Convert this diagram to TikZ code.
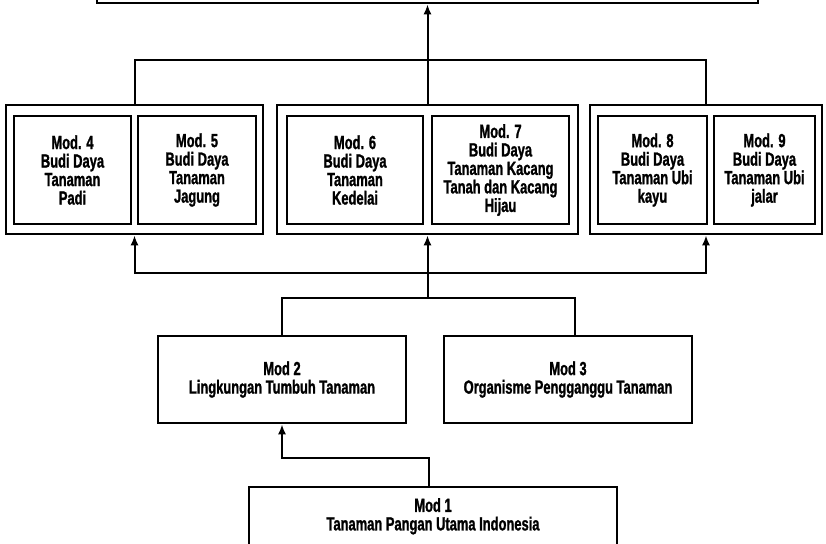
\documentclass[tikz,border=0pt]{standalone}
\usepackage{fontspec}
\setmainfont{Liberation Sans}[FakeStretch=0.68,BoldFeatures={FakeBold=1.2}]
\usetikzlibrary{arrows.meta}
\tikzset{
  modbox/.style={draw,line width=2.6pt,align=center,inner sep=0pt,
    font=\bfseries\fontsize{19}{18.5}\selectfont},
  grpbox/.style={draw,line width=2.6pt,inner sep=0pt},
  link/.style={line width=2pt},
  tip/.style={-{Latex[length=10pt,width=8pt]}}
}

\begin{document}
\begin{tikzpicture}[x=1pt,y=-1pt]
\useasboundingbox (0,0) rectangle (826,543);
\clip (0,0) rectangle (826,543);
% top box
\node[grpbox,minimum width=661pt,minimum height=33pt] (top) at (427.5,-13.5) {};
% groups
\node[grpbox,minimum width=257pt,minimum height=129pt] (grp1) at (134.5,169.5) {};
\node[grpbox,minimum width=301pt,minimum height=129pt] (grp2) at (427.5,169.5) {};
\node[grpbox,minimum width=232pt,minimum height=129pt] (grp3) at (706,169.5) {};
% modules in groups
\node[modbox,minimum width=117pt,minimum height=108pt] (m4) at (72.5,170) {Mod. 4\\Budi Daya\\Tanaman\\Padi};
\node[modbox,minimum width=118pt,minimum height=108pt] (m5) at (197,170) {Mod. 5\\Budi Daya\\Tanaman\\Jagung};
\node[modbox,minimum width=136pt,minimum height=108pt] (m6) at (355,170) {Mod. 6\\Budi Daya\\Tanaman\\Kedelai};
\node[modbox,minimum width=137pt,minimum height=108pt] (m7) at (500.5,170) {Mod. 7\\Budi Daya\\Tanaman Kacang\\Tanah dan Kacang\\Hijau};
\node[modbox,minimum width=109pt,minimum height=108pt] (m8) at (652.5,170) {Mod. 8\\Budi Daya\\Tanaman Ubi\\kayu};
\node[modbox,minimum width=101pt,minimum height=108pt] (m9) at (764.5,170) {Mod. 9\\Budi Daya\\Tanaman Ubi\\jalar};
% lower modules
\node[modbox,minimum width=248pt,minimum height=87pt] (m2) at (282,379.5) {Mod 2\\Lingkungan Tumbuh Tanaman};
\node[modbox,minimum width=248pt,minimum height=87pt] (m3) at (568,379.5) {Mod 3\\Organisme Pengganggu Tanaman};
\node[modbox,minimum width=368pt,minimum height=73pt] (m1) at (433,523.5) {Mod 1\\Tanaman Pangan Utama Indonesia\\~};
% connectors
\coordinate (upbar) at (427.5,60);
\coordinate (lowbar) at (427.5,273);
\coordinate (midbar) at (427.5,298);
\coordinate (m1bar) at (429,458);
\draw[link,tip] (grp2.north) -- (top.south);
\draw[link] (grp1.north) |- (upbar) -| (grp3.north);
\draw[link,tip] (lowbar) -| (grp1.south);
\draw[link,tip] (lowbar) -| (grp3.south);
\draw[link,tip] (lowbar) -- (grp2.south);
\draw[link] (lowbar) -- (midbar);
\draw[link] (m2.north) |- (midbar) -| ([xshift=7pt]m3.north);
\draw[link,tip] (m1.north -| m1bar) -- (m1bar) -| (m2.south);
\end{tikzpicture}
\end{document}
